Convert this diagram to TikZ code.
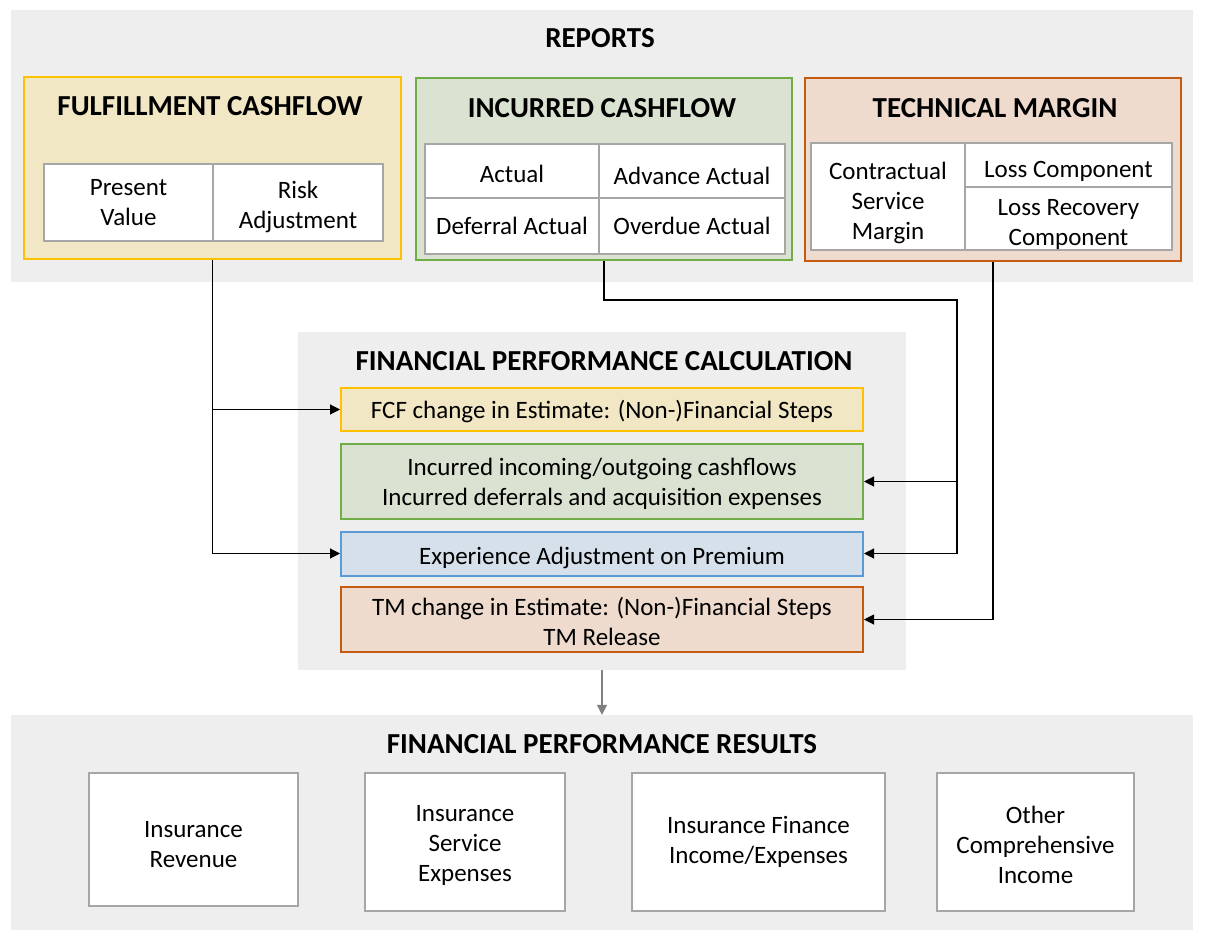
\documentclass[tikz,border=0pt]{standalone}
\usepackage{fontspec}
\setmainfont{Carlito}
\usepackage{tikz}
\usetikzlibrary{positioning,arrows.meta}
\definecolor{ifrsband}{HTML}{EEEEEE}
\definecolor{ifrsgold}{HTML}{FFC000}
\definecolor{ifrsgoldlt}{HTML}{F2E7C5}
\definecolor{ifrsgreen}{HTML}{70AD47}
\definecolor{ifrsgreenlt}{HTML}{DAE3D1}
\definecolor{ifrsrust}{HTML}{C55A11}
\definecolor{ifrsrustlt}{HTML}{EEDBCE}
\definecolor{ifrsblue}{HTML}{5B9BD5}
\definecolor{ifrsbluelt}{HTML}{D5E0EA}
\definecolor{ifrsrule}{HTML}{A6A6A6}
\newcommand{\cellsink}[1]{\rule{0pt}{#1pt}}

\begin{document}
\begin{tikzpicture}[x=1pt,y=-1pt,>={Triangle[length=10pt,width=10pt]},
  font=\fontsize{25}{30}\selectfont,
  band/.style={fill=ifrsband,inner sep=0pt},
  head/.style={font=\fontsize{29}{35}\selectfont\bfseries},
  grp/.style={line width=2pt,inner sep=0pt},
  cell/.style={draw=ifrsrule,line width=2pt,fill=white,align=center,inner sep=0pt},
  stepbox/.style={line width=2pt,align=center,minimum width=522,inner sep=0pt},
  link/.style={->,line width=1.1pt}]
\useasboundingbox[fill=white] (0,0) rectangle (1207,943);
% reports
\node[band,minimum width=1182,minimum height=272] (reports) at (602,146) {};
\node[head] (reportsttl) at (600,38) {REPORTS};
\node[grp,draw=ifrsgold,fill=ifrsgoldlt,minimum width=377,minimum height=182] (fcf) at (212.5,168) {};
\node[grp,draw=ifrsgreen,fill=ifrsgreenlt,minimum width=376,minimum height=182] (inc) at (604,169) {};
\node[grp,draw=ifrsrust,fill=ifrsrustlt,minimum width=376,minimum height=183] (tm) at (993,169.5) {};
\node[head] (fcfttl) at (210,106) {FULFILLMENT CASHFLOW};
\node[head] (incttl) at (602,108) {INCURRED CASHFLOW};
\node[head] (tmttl) at (995,108) {TECHNICAL MARGIN};
\node[cell,minimum width=169,minimum height=77] (pv) at (128.5,202.5) {Present\\Value};
\node[cell,minimum width=170,minimum height=77] (ra) at (298,202.5) {\cellsink{26.5}Risk\\Adjustment};
\node[cell,minimum width=174,minimum height=54] (act) at (512,171) {\cellsink{22.5}Actual};
\node[cell,minimum width=186,minimum height=54] (adv) at (692,171) {\cellsink{26.5}Advance Actual};
\node[cell,minimum width=174,minimum height=56] (dfr) at (512,226) {Deferral Actual};
\node[cell,minimum width=186,minimum height=56] (ovd) at (692,226) {Overdue Actual};
\node[cell,minimum width=154,minimum height=107] (csm) at (888,196.5) {\cellsink{30.5}Contractual\\Service\\Margin};
\node[cell,minimum width=207,minimum height=44] (lc) at (1068.5,165) {\cellsink{28.5}Loss Component};
\node[cell,minimum width=207,minimum height=63] (lrc) at (1068.5,218.5) {\cellsink{27.5}Loss Recovery\\Component};
% calculation
\node[band,minimum width=608,minimum height=338] (calc) at (602,501) {};
\node[head] (calcttl) at (604,361) {FINANCIAL PERFORMANCE CALCULATION};
\node[stepbox,draw=ifrsgold,fill=ifrsgoldlt,minimum height=43] (fcfstep) at (602,409.5) {\cellsink{22.5}FCF change in Estimate: (Non-)Financial Steps};
\node[stepbox,draw=ifrsgreen,fill=ifrsgreenlt,minimum height=75] (incstep) at (602,481.5) {\cellsink{22.5}Incurred incoming/outgoing cashflows\\Incurred deferrals and acquisition expenses};
\node[stepbox,draw=ifrsblue,fill=ifrsbluelt,minimum height=44] (expstep) at (602,553.5) {\cellsink{26.5}Experience Adjustment on Premium};
\node[stepbox,draw=ifrsrust,fill=ifrsrustlt,minimum height=65] (tmstep) at (602,619.5) {\cellsink{21.5}TM change in Estimate: (Non-)Financial Steps\\TM Release};
% results
\node[band,minimum width=1182,minimum height=215] (results) at (602,822.5) {};
\node[head] (resultsttl) at (602,744) {FINANCIAL PERFORMANCE RESULTS};
\node[cell,minimum width=209,minimum height=133] (rev) at (193.5,839.5) {\cellsink{26.5}Insurance\\Revenue};
\node[cell,minimum width=200,minimum height=138] (ise) at (465,842) {\cellsink{23.5}Insurance\\Service\\Expenses};
\node[cell,minimum width=253,minimum height=138] (ife) at (758.5,842) {Insurance Finance\\Income/Expenses};
\node[cell,minimum width=197,minimum height=138] (oci) at (1035.5,842) {\cellsink{23.5}Other\\Comprehensive\\Income};
% links
\coordinate (incbus) at (957,300);
\draw[link] (fcf.south) |- (fcfstep.west);
\draw[link] (fcf.south) |- (expstep.west);
\draw[link] (inc.south) |- (incbus) |- (incstep.east);
\draw[link] (incbus) |- (expstep.east);
\draw[link] (tm.south) |- (tmstep.east);
\draw[link,gray] (calc.south) -- (results.north);
\end{tikzpicture}
\end{document}
